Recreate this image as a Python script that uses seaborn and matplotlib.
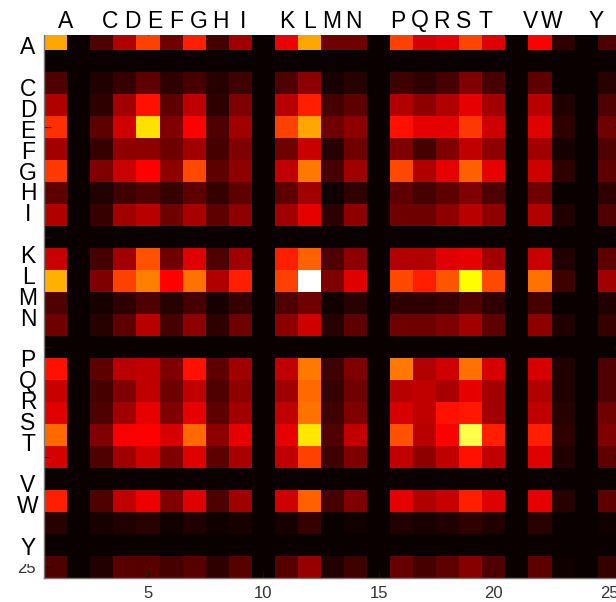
import numpy as np
import pandas as pd
import matplotlib
matplotlib.use("Agg")
import matplotlib.pyplot as plt
from matplotlib.patches import Rectangle
import seaborn as sns

letters = list("ABCDEFGHIJKLMNOPQRSTUVWXY")
shown = ["A", "", "C", "D", "E", "F", "G", "H", "I", "", "K", "L", "M", "N", "",
         "P", "Q", "R", "S", "T", "", "V", "W", "", "Y"]
tick_pos = [5, 10, 15, 20, 25]
tick_labels = ["5", "10", "15", "20", "25"]

zero = [0.0] * 25
row_A = [.61, 0, .104, .247, .461, .152, .413, .092, .223, 0, .343, .61, .152, .152, 0, .461, .307, .331, .468, .319, 0, .365, .056, 0, .104]
row_B = zero
row_C = [.104, 0, .032, .068, .128, .056, .092, .044, .08, 0, .104, .199, .02, .044, 0, .08, .056, .092, .175, .092, 0, .128, 0, 0, .044]
row_D = [.247, 0, .056, .223, .389, .128, .271, .056, .175, 0, .259, .413, .092, .128, 0, .247, .199, .247, .331, .223, 0, .259, .032, 0, .104]
row_E = [.437, 0, .128, .295, .70, .175, .365, .104, .223, 0, .461, .61, .152, .199, 0, .389, .331, .331, .449, .295, 0, .319, .056, 0, .152]
row_F = [.223, 0, .068, .199, .199, .152, .223, .092, .175, 0, .152, .283, .044, .152, 0, .175, .092, .175, .271, .199, 0, .223, .02, 0, .104]
row_G = [.449, 0, .175, .283, .365, .199, .473, .128, .199, 0, .271, .544, .092, .223, 0, .473, .247, .331, .508, .331, 0, .295, .056, 0, .128]
row_H = [.128, 0, .032, .08, .104, .068, .128, .068, .128, 0, .128, .223, .008, .056, 0, .128, .092, .128, .175, .104, 0, .152, 0, 0, .056]
row_I = [.247, 0, .068, .223, .259, .152, .235, .128, .199, 0, .223, .331, .05, .199, 0, .152, .152, .199, .259, .199, 0, .247, .032, 0, .104]
row_J = zero
row_K = [.283, 0, .092, .223, .485, .152, .319, .104, .223, 0, .413, .508, .104, .199, 0, .247, .247, .319, .331, .223, 0, .283, .032, 0, .128]
row_L = [.628, 0, .175, .461, .556, .365, .532, .247, .413, 0, .461, 1.0, .175, .319, 0, .473, .413, .49, .746, .473, 0, .532, .08, 0, .223]
row_M = [.104, 0, .02, .056, .104, .044, .092, .02, .068, 0, .104, .152, .015, .044, 0, .056, .056, .068, .104, .056, 0, .092, 0, 0, .032]
row_N = [.152, 0, .044, .128, .259, .092, .199, .056, .152, 0, .199, .295, .044, .128, 0, .152, .152, .175, .223, .128, 0, .199, .032, 0, .068]
row_O = zero
row_P = [.389, 0, .128, .259, .271, .175, .389, .128, .223, 0, .271, .544, .08, .175, 0, .544, .247, .295, .532, .307, 0, .307, .032, 0, .104]
row_Q = [.283, 0, .092, .175, .271, .152, .271, .104, .199, 0, .223, .52, .068, .152, 0, .259, .271, .235, .331, .223, 0, .247, .032, 0, .104]
row_R = [.319, 0, .104, .223, .331, .175, .331, .128, .223, 0, .271, .532, .08, .175, 0, .307, .271, .389, .401, .223, 0, .271, .044, 0, .152]
row_S = [.52, 0, .175, .355, .365, .307, .52, .199, .331, 0, .331, .71, .104, .271, 0, .485, .259, .365, .82, .413, 0, .413, .056, 0, .175]
row_T = [.307, 0, .104, .223, .295, .175, .319, .128, .235, 0, .271, .461, .08, .175, 0, .271, .199, .271, .389, .271, 0, .319, .032, 0, .128]
row_U = zero
row_V = [.413, 0, .104, .271, .343, .175, .319, .104, .223, 0, .295, .508, .092, .175, 0, .331, .247, .283, .413, .319, 0, .331, .044, 0, .128]
row_W = [.044, 0, .02, .032, .044, .008, .032, .008, .02, 0, .02, .068, 0, .008, 0, .032, .02, .032, .056, .032, 0, .044, 0, 0, .008]
row_X = zero
row_Y = [.104, 0, .032, .116, .116, .092, .116, .056, .116, 0, .116, .211, .032, .08, 0, .14, .092, .128, .187, .104, 0, .128, .008, 0, .068]

rows = [row_A, row_B, row_C, row_D, row_E, row_F, row_G, row_H, row_I, row_J,
        row_K, row_L, row_M, row_N, row_O, row_P, row_Q, row_R, row_S, row_T,
        row_U, row_V, row_W, row_X, row_Y]
df = pd.DataFrame(rows, index=letters, columns=letters)

W, H = 616, 602
fig = plt.figure(figsize=(W / 100, H / 100), dpi=100)
fig.patch.set_facecolor("white")

ax_left, ax_right = 44.2, 44.2 + 25 * 23.06
ax_top, ax_bot = 27.5, 578.0
ax = fig.add_axes([ax_left / W, 1 - ax_bot / H, (ax_right - ax_left) / W, (ax_bot - ax_top) / H])

sns.heatmap(df, ax=ax, cmap="hot", vmin=0, vmax=1, cbar=False,
            xticklabels=False, yticklabels=False)

for s in ax.spines.values():
    s.set_visible(True)
    s.set_color("#777777")
    s.set_linewidth(1.0)

ax.set_xticks([p - 0.5 for p in tick_pos])
ax.set_xticklabels(tick_labels)
ax.set_yticks([p - 0.5 for p in tick_pos])
ax.set_yticklabels(["", "", "", "", "25"])
ax.tick_params(direction="in", length=5, width=0.8, color="#111111",
               top=True, bottom=True, left=True, right=True,
               labeltop=False, labelright=False, pad=6)
for lab in ax.get_xticklabels() + ax.get_yticklabels():
    lab.set_fontfamily(["Liberation Sans Narrow", "Liberation Sans", "DejaVu Sans"])
    lab.set_fontsize(12)
    lab.set_color("#333333")

# white strip above the image where the letter row sits
fig.add_artist(Rectangle((0, 1 - 34.5 / H), 1, 34.5 / H, transform=fig.transFigure,
                         facecolor="white", edgecolor="none", zorder=2))
# white box behind the left letter column's last label (hides top of the "25")
fig.add_artist(Rectangle((10 / W, 1 - 564 / H), 33 / W, 30 / H, transform=fig.transFigure,
                         facecolor="white", edgecolor="none", zorder=2))

lfont = ["Liberation Sans", "DejaVu Sans"]
for i, t in enumerate(shown):
    if not t:
        continue
    xp = 66 + i * 22.1
    fig.text(xp / W, 1 - 21 / H, t, ha="center", va="center", fontsize=16.5,
             family=lfont, color="black", zorder=3)
    yp = 48 + i * 20.85
    fig.text(28 / W, 1 - yp / H, t, ha="center", va="center", fontsize=16.5,
             family=lfont, color="black", zorder=3)

fig.savefig("out.png", dpi=100)
